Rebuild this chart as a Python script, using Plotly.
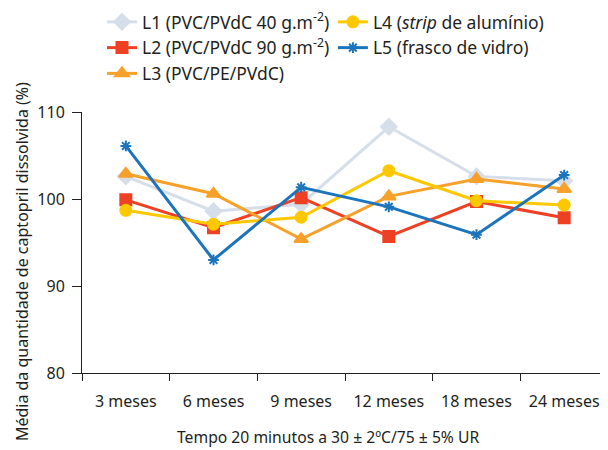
import plotly.graph_objects as go

categories = ["3 meses", "6 meses", "9 meses", "12 meses", "18 meses", "24 meses"]
l1 = [102.6, 98.6, 99.4, 108.3, 102.6, 102.1]
l2 = [99.9, 96.7, 100.15, 95.7, 99.7, 97.85]
l3 = [102.9, 100.6, 95.4, 100.3, 102.3, 101.15]
l4 = [98.7, 97.1, 97.9, 103.25, 99.8, 99.3]
l5 = [106.1, 93.0, 101.35, 99.1, 95.9, 102.75]
names = ["L1 (PVC/PVdC 40 g.m<sup>-2</sup>)", "L2 (PVC/PVdC 90 g.m<sup>-2</sup>)",
         "L3 (PVC/PE/PVdC)", "L4 (<i>strip</i> de alumínio)", "L5 (frasco de vidro)"]
y_ticks = [80, 90, 100, 110]
x_title = "Tempo 20 minutos a 30 ± 2ºC/75 ± 5% UR"
y_title = "Média da quantidade de captopril dissolvida (%)"

FONT = "Noto Sans"
TXT = "#231f20"
colors = ["#d5dee9", "#ee4023", "#f7a02a", "#fdc800", "#1c75bc"]
symbols = ["diamond", "square", "triangle-up", "circle", "asterisk-open"]
sizes = [12, 11, 12, 11, 9]
legends = ["legend", "legend", "legend", "legend2", "legend2"]

fig = go.Figure()
for i, (vals, name, c, s, sz, lg) in enumerate(zip([l1, l2, l3, l4, l5], names, colors, symbols, sizes, legends)):
    fig.add_trace(go.Scatter(
        x=categories, y=vals, name=name, mode="lines+markers",
        line=dict(color=c, width=3),
        marker=dict(symbol=s, size=sz, color=c, line=dict(color=c, width=2)),
        legend=lg,
    ))

legend_common = dict(font=dict(family=FONT, size=17.5, color=TXT), bgcolor="rgba(0,0,0,0)",
                     orientation="v", xref="paper", yref="paper",
                     xanchor="left", yanchor="top", itemwidth=30)
fig.update_layout(
    width=600, height=442,
    margin=dict(l=74, r=0, t=104, b=77, autoexpand=False),
    paper_bgcolor="white", plot_bgcolor="white",
    font=dict(family=FONT, size=16, color=TXT),
    showlegend=True,
    legend=dict(x=0.038, y=1.4138, **legend_common),
    legend2=dict(x=0.477, y=1.4138, **legend_common),
    xaxis=dict(
        type="category", tickson="boundaries", ticks="outside", ticklen=7, tickwidth=1,
        tickcolor=TXT, showline=True, linecolor=TXT, linewidth=1, showgrid=False,
        zeroline=False, range=[-0.5, 5.5], automargin=False, ticklabelstandoff=14,
        tickfont=dict(size=16),
    ),
    yaxis=dict(
        range=[80, 110], tickvals=y_ticks, ticks="outside", ticklen=9, tickwidth=1,
        tickcolor=TXT, showline=True, linecolor=TXT, linewidth=1, showgrid=False,
        zeroline=False, automargin=False, ticklabelstandoff=4,
        tickfont=dict(size=16),
    ),
    annotations=[
        dict(text=x_title, xref="paper", yref="paper", x=0.4677, y=-0.245,
             xanchor="center", yanchor="middle", showarrow=False, font=dict(size=15.7)),
        dict(text=y_title, xref="paper", yref="paper", x=-0.114, y=0.425, textangle=-90,
             xanchor="center", yanchor="middle", showarrow=False, font=dict(size=16)),
    ],
)

fig.write_html("out.html")
